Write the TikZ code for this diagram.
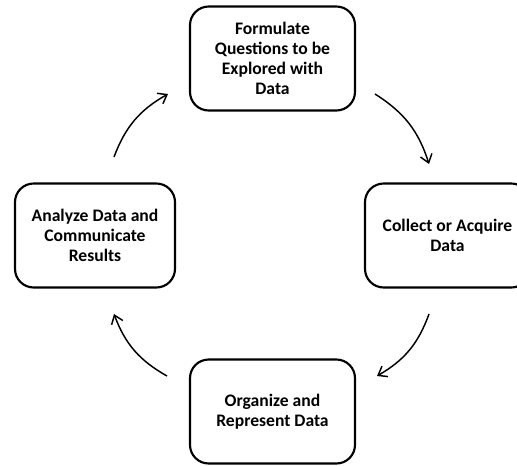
\documentclass[tikz,border=0pt]{standalone}
\usepackage{fontspec}
\setmainfont{Carlito}
\usetikzlibrary{arrows.meta}
\begin{document}
\begin{tikzpicture}[x=0.75pt,y=-0.75pt,
    stage/.style={draw,line width=1.6pt,rounded corners=14pt,minimum width=165*0.75pt,
        minimum height=104*0.75pt,align=center,inner sep=0pt,
        font=\fontsize{13.2}{15}\selectfont\bfseries},
    cycle/.style={-{Straight Barb[length=6pt,width=9pt]},line width=1.1pt,bend left=20}]
    \clip (0,0) rectangle (517,465);
    \node[stage] (formulate) at (272.5,58.5) {Formulate\\Questions to be\\Explored with\\Data};
    \node[stage] (collect) at (447.5,235.5) {Collect or Acquire\\Data};
    \node[stage] (organize) at (272.5,411.5) {Organize and\\Represent Data};
    \node[stage,minimum width=160*0.75pt] (analyze) at (95,235.5) {Analyze Data and\\Communicate\\Results};
    % arrow ends between the boxes
    \coordinate (a1) at (375,94); \coordinate (a2) at (429,164);
    \coordinate (b1) at (429,314); \coordinate (b2) at (377,376);
    \coordinate (c1) at (167,376); \coordinate (c2) at (114,314);
    \coordinate (d1) at (114,157); \coordinate (d2) at (168,94);
    \draw[cycle] (a1) to (a2);
    \draw[cycle] (b1) to (b2);
    \draw[cycle] (c1) to (c2);
    \draw[cycle] (d1) to (d2);
\end{tikzpicture}
\end{document}
